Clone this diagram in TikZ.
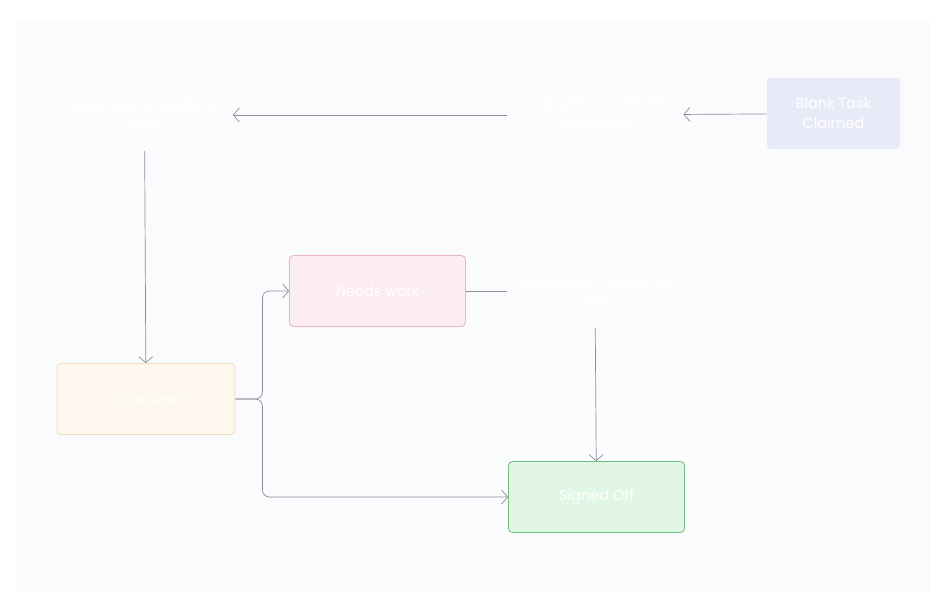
\documentclass[tikz,border=0pt]{standalone}
\usepackage{fontspec}
\setmainfont{Poppins}
\usetikzlibrary{arrows.meta}
\definecolor{pagebg}{HTML}{FAFBFC}
\definecolor{plainbox}{HTML}{FCFCFE}
\definecolor{claimfill}{HTML}{E8EAF8}
\definecolor{workfill}{HTML}{FCEDF1}
\definecolor{workline}{HTML}{E6B3C9}
\definecolor{reviewfill}{HTML}{FDF7EE}
\definecolor{reviewline}{HTML}{F2DDB9}
\definecolor{signfill}{HTML}{E1F6E4}
\definecolor{signline}{HTML}{6CBF7A}
\definecolor{linkgray}{HTML}{8E8E9A}
\begin{document}
\begin{tikzpicture}[x=1pt,y=-1pt,
  state/.style={rounded corners=4pt, minimum width=176pt, minimum height=71pt,
    align=center, text=white, line width=0.8pt, font=\fontsize{14.5}{20}\selectfont},
  link/.style={draw=linkgray, line width=0.7pt, -{Straight Barb[length=6pt,width=14pt]}}]
\useasboundingbox (0,0) rectangle (947,611);
\fill[white] (0,0) rectangle (947,611);
\fill[pagebg] (17,20) rectangle (930,592);

\node[state, fill=plainbox] (hod) at (144.5,115) {Information ready for\\HOD};
\node[state, fill=plainbox] (doc) at (595,115) {Example Document\\complete};
\node[state, fill=claimfill, minimum width=133pt] (claimed) at (833.5,113.5) {Blank Task\\Claimed};
\node[state, draw=workline, fill=workfill] (work) at (377.5,291) {Needs work};
\node[state, fill=plainbox] (hod2) at (595,292) {Information ready for\\HOD};
\node[state, draw=reviewline, fill=reviewfill, minimum width=178pt] (review) at (146,399) {In review};
\node[state, draw=signline, fill=signfill] (signed) at (596.5,497) {Signed Off};

\path[link] (claimed) -- (doc);
\path[link] (doc) -- (hod);
\path[link] (hod) -- (review);
\path[link, rounded corners=7pt] (review.east) -- ++(27,0) |- (work.west);
\path[link, rounded corners=7pt] (review.east) -- ++(27,0) |- (signed.west);
\path[draw=linkgray, line width=0.7pt] (work) -- (hod2);
\path[link] (hod2) -- (signed);
\end{tikzpicture}
\end{document}
